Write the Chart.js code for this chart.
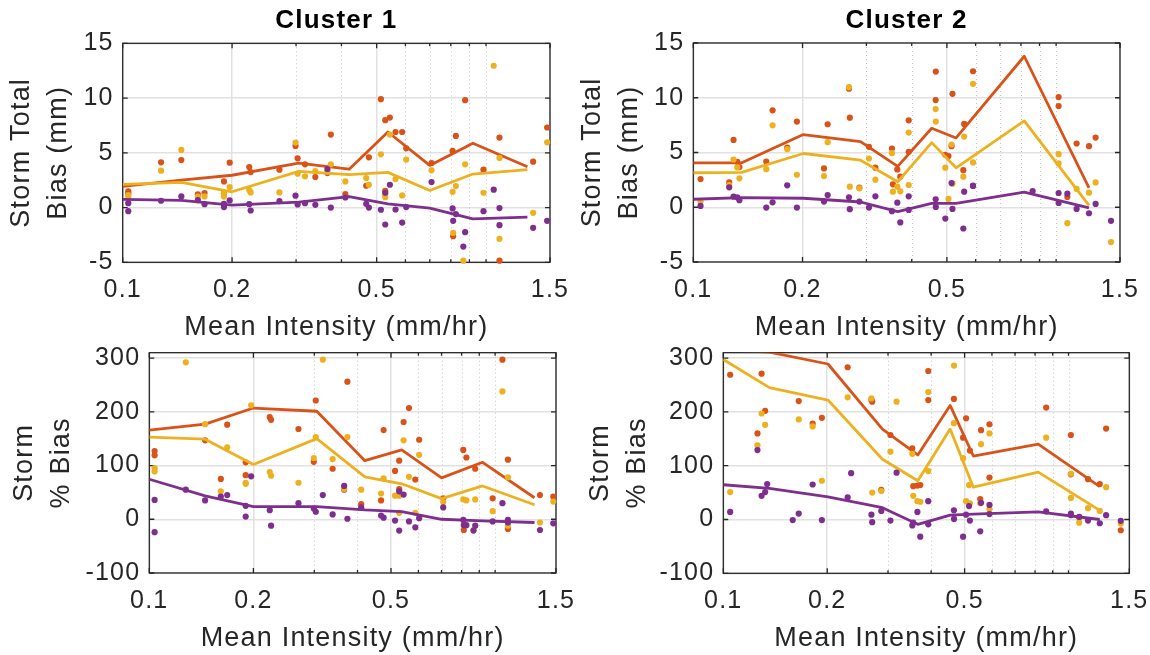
<!DOCTYPE html>
<html><head><meta charset="utf-8">
<script src="https://cdn.jsdelivr.net/npm/chart.js@4.4.1/dist/chart.umd.min.js"></script>
<style>
html,body{margin:0;padding:0;background:#fff;overflow:hidden;width:1150px;height:655px;}
canvas{position:absolute;}
</style></head><body>
<canvas id="tl"></canvas><canvas id="tr"></canvas><canvas id="bl"></canvas><canvas id="br"></canvas>
<script>
// ---------------- DATA ----------------
const seriesNames = ['Series A', 'Series B', 'Series C'];
const xTickValues = [0.1, 0.2, 0.5, 1.5];
const xTickLabels = ['0.1', '0.2', '0.5', '1.5'];
const xMinorTickValues = [0.3, 0.4, 0.6, 0.7, 0.8, 0.9, 1.0];
const yTicksTotal = [-5, 0, 5, 10, 15];
const yTicksPct = [-100, 0, 100, 200, 300];

// Cluster 1 storms
const c1Intensity = [0.1036,0.1036,0.1275,0.145,0.161,0.168,0.19,0.19,0.197,0.223,0.225,0.27,0.299,0.303,0.3175,0.339,0.366,0.374,0.41,0.468,0.476,0.5136,0.528,0.528,0.5437,0.5636,0.5878,0.6031,0.708,0.809,0.812,0.826,0.866,0.876,0.984,1.05,1.089,1.089,1.348,1.473];
const c1TotA = [1.47,1.3,4.13,4.34,1.2,1.32,2.39,1.3,4.1,3.7,3.24,3.46,5.63,4.5,3.95,2.79,3.15,6.66,1.23,1.99,4.59,9.9,7.98,1.53,8.22,6.9,6.9,5.41,4.07,5.17,-2.62,6.54,null,9.81,3.46,null,6.39,-4.85,4.19,7.31];
const c1TotB = [1.14,1.0,3.37,5.26,1.0,1.02,1.3,1.0,1.87,1.6,1.38,1.38,5.93,3.09,2.85,3.34,3.3,3.95,2.39,2.69,2.08,4.86,1.23,0.95,6.66,2.6,1.11,4.38,3.4,1.44,-2.31,1.96,-4.85,3.95,1.35,12.95,4.53,-2.86,-0.48,5.96];
const c1TotC = [0.4,-0.33,0.62,1.02,0.68,0.31,0.34,0.04,0.65,0.31,-0.27,0.59,1.08,0.28,0.4,0.25,3.52,0.0,0.92,0.34,0.0,-0.2,-1.55,1.35,2.08,-0.18,-1.37,0.04,2.33,-0.08,-1.21,-0.6,-3.56,-2.25,-0.33,1.63,-0.05,-1.61,-1.85,-1.21];
const c1PctA = [127,119,null,147,75,176,106,82,null,190,185,168,107,221,null,94,55,256,28,35,166,90,109,56,181,207,74,148,39,129,-20,115,null,94,39,297,111,-18,45,42];
const c1PctB = [95,89,292,177,52,134,66,68,212,88,81,68,114,153,297,112,57,153,55,48,76,44,12,44,147,79,12,120,32,37,-7.5,35,-20,37,15,238,78,-12,-6,33];
const c1PctC = [36,-24,55,35,42,45,25,5,80,17,-12,30,20,14,45,9,62,1,22,7,3,-2.5,-21,52,46,-4,-15,2,22,-1,-11,-11,-21,-12,-4,30,-1,-6,-20,-7.5];
// Cluster 1 binned-mean lines
const c1LineX = [0.1,0.145,0.2,0.305,0.42,0.537,0.70,0.92,1.30];
const c1LineTotA = [1.93,2.5,2.95,4.05,3.5,6.9,3.85,5.87,3.73];
const c1LineTotB = [2.11,2.3,1.44,3.3,3.0,3.21,1.56,3.06,3.46];
const c1LineTotC = [0.74,0.65,0.22,0.5,1.0,0.34,-0.05,-1.03,-0.88];
const c1LinePctA = [166,177,207,201,109,129,77,106,40];
const c1LinePctB = [153,149,102,150,79,66,38.5,62,27];
const c1LinePctC = [74.5,43.5,23.6,23.6,17.4,14.3,0,-3,-6];

// Cluster 2 storms
const c2Intensity = [0.1047,0.1256,0.1291,0.1322,0.134,0.1589,0.1654,0.1815,0.193,0.2292,0.2346,0.2686,0.27,0.2869,0.3049,0.3176,0.3528,0.355,0.365,0.372,0.3924,0.3924,0.4656,0.466,0.495,0.505,0.515,0.518,0.5549,0.558,0.5902,0.5902,0.8616,1.016,1.016,1.074,1.139,1.232,1.285,1.417];
const c2TotA = [2.58,2.27,6.15,4.15,3.67,4.18,8.85,5.45,7.82,3.55,7.58,10.82,8.18,1.79,5.52,3.61,5.36,2.09,3.45,2.79,7.94,5.06,9.79,12.39,4.79,4.67,5.58,10.36,3.39,7.61,12.42,null,null,10.06,9.24,0.94,5.82,5.58,6.36,null];
const c2TotB = [0.52,2.03,4.36,3.64,2.64,3.48,7.48,5.3,2.97,2.85,5.94,10.97,1.88,1.73,4.45,2.52,4.94,1.42,1.88,1.45,6.82,2.03,8.97,7.82,3.61,0.76,5.73,2.15,2.79,6.45,11.27,4.09,null,4.85,4.0,-1.45,1.67,1.33,2.27,-3.18];
const c2TotC = [0.12,1.82,0.97,0.91,0.64,-0.03,0.45,2.0,-0.03,0.52,1.12,0.91,-0.18,0.52,-0.03,1.0,-0.36,null,0.42,-1.39,1.0,-0.24,0.73,0.03,-1.03,null,2.21,-0.15,-1.94,1.42,1.94,1.97,1.48,1.3,0.39,1.24,-0.15,-0.55,0.3,-1.24];
const c2PctA = [269,160,271,202,null,null,220,178,189,283,null,222,219,55,157,null,132,62,63,64,276,222,224,null,152,188,null,128,38,166,177,78,208,157,84,4,75,66,169,-20];
const c2PctB = [51,138,197,176,null,null,186,173,72,227,null,225,50,53,126,219,122,44,34,33,237,90,179,286,114,34,64,30,30,140,160,19,152,85,40,-6,21,16,60,-7.5];
const c2PctC = [14,129,44,51,66,-1,11,65,-1,41,86,9,-5,16,-2,87,-11,-6,14,-32,34,-9,17,1,-32,9,25,-2,-22,31,27,10,15,11,8,5,-2,-7,8,-2.5];
// Cluster 2 binned-mean lines
const c2LineX = [0.1,0.136,0.201,0.289,0.366,0.454,0.53,0.817,1.232];
const c2LineTotA = [4.06,4.06,6.64,6.0,3.73,7.21,6.33,13.79,1.76];
const c2LineTotB = [3.15,3.18,4.91,4.3,2.33,5.9,3.6,7.88,0.18];
const c2LineTotC = [0.73,0.88,0.82,0.48,-0.39,0.36,0.36,1.39,-0.06];
const c2LinePctA = [315,311,289,168,120,212,118,140,61];
const c2LinePctB = [297.5,245,222,112,72,168,60,88,17];
const c2LinePctC = [64.6,58,42,22,-9,8,10,14,0];

// ---------------- STYLE ----------------
const FONT = "'Liberation Sans', Arial, Helvetica, sans-serif";
const COLORS = ['#D95319', '#EDB120', '#7E2F8E'];
const TICK_SIZE = 25, LABEL_SIZE = 27, TITLE_SIZE = 26;
const LETTER_SPACING = '1.2px';
const AXIS_COLOR = '#262626';
const DOT_RADIUS = 3.1, LINE_WIDTH = 2.8;

const spacingPlugin = {
  id: 'spacing',
  beforeUpdate(c) { c.ctx.letterSpacing = LETTER_SPACING; },
  beforeDraw(c) { c.ctx.letterSpacing = LETTER_SPACING; }
};

function makeAxesPlugin(yTicks) {
  return {
    id: 'matlabAxes',
    beforeDatasetsDraw(chart) {
      const {ctx, chartArea: a, scales: {x, y}} = chart;
      ctx.save();
      ctx.beginPath(); ctx.rect(a.left, a.top, a.right - a.left, a.bottom - a.top); ctx.clip();
      ctx.strokeStyle = '#c4c4c4'; ctx.lineWidth = 1; ctx.setLineDash([1, 3]);
      xMinorTickValues.forEach(v => {
        const px = Math.round(x.getPixelForValue(v)) + 0.5;
        ctx.beginPath(); ctx.moveTo(px, a.top); ctx.lineTo(px, a.bottom); ctx.stroke();
      });
      ctx.restore();
      ctx.save();
      ctx.strokeStyle = AXIS_COLOR; ctx.lineWidth = 1.3;
      ctx.strokeRect(a.left, a.top, a.right - a.left, a.bottom - a.top);
      ctx.beginPath();
      xTickValues.forEach(v => { const px = x.getPixelForValue(v);
        ctx.moveTo(px, a.bottom); ctx.lineTo(px, a.bottom - 5);
        ctx.moveTo(px, a.top); ctx.lineTo(px, a.top + 5); });
      xMinorTickValues.forEach(v => { const px = x.getPixelForValue(v);
        ctx.moveTo(px, a.bottom); ctx.lineTo(px, a.bottom - 3);
        ctx.moveTo(px, a.top); ctx.lineTo(px, a.top + 3); });
      yTicks.forEach(v => { const py = y.getPixelForValue(v);
        ctx.moveTo(a.left, py); ctx.lineTo(a.left + 5, py);
        ctx.moveTo(a.right, py); ctx.lineTo(a.right - 5, py); });
      ctx.stroke();
      ctx.restore();
    }
  };
}

function pts(xs, ys) {
  return xs.map((x, i) => ({x: x, y: ys[i]})).filter(p => p.y !== null && p.y !== undefined);
}
function dotsDS(name, xs, ys, color, order) {
  return {label: name, data: pts(xs, ys), showLine: false, backgroundColor: color, borderColor: color,
    pointRadius: DOT_RADIUS, pointBorderWidth: 0, pointHoverRadius: DOT_RADIUS, order: order, clip: false};
}
function lineDS(name, xs, ys, color, order) {
  return {label: name + ' mean', data: pts(xs, ys), showLine: true, borderColor: color, backgroundColor: color,
    borderWidth: LINE_WIDTH, pointRadius: 0, pointHoverRadius: 0, order: order, clip: 0, tension: 0,
    borderJoinStyle: 'round', borderCapStyle: 'butt'};
}

function makePanel(id, spec) {
  const cv = document.getElementById(id);
  cv.width = spec.canvas.w; cv.height = spec.canvas.h;
  cv.style.left = spec.canvas.left + 'px'; cv.style.top = spec.canvas.top + 'px';
  cv.style.width = spec.canvas.w + 'px'; cv.style.height = spec.canvas.h + 'px';
  const L = spec.area.l - spec.canvas.left, R = spec.area.r - spec.canvas.left;
  const T = spec.area.t - spec.canvas.top, B = spec.area.b - spec.canvas.top;
  const tickLH = TICK_SIZE * 1.2;
  const xTitleLH = LABEL_SIZE * 1.2;
  const xScaleBottom = (spec.xTitleMid - spec.canvas.top) + xTitleLH / 2;
  const xH = xScaleBottom - B;
  const padBottom = spec.canvas.h - xScaleBottom;
  const tickPad = (spec.tickMid - spec.canvas.top) - B - tickLH / 2;
  const yLabelLH = 37;
  const yTitlePadTop = (spec.yLine1 - spec.canvas.left) - yLabelLH / 2;
  let layoutTop = T;
  let titleOpts = {display: false};
  if (spec.title) {
    const tlh = TITLE_SIZE * 1.2;
    const mid = spec.titleMid - spec.canvas.top;
    titleOpts = {display: true, text: spec.title, fullSize: false, color: '#000000',
      font: {family: FONT, size: TITLE_SIZE, weight: 'bold', lineHeight: 1.2},
      padding: {top: mid - tlh / 2, bottom: T - mid - tlh / 2}};
    layoutTop = 0;
  }
  const d = spec.data;
  const datasets = [
    dotsDS(seriesNames[0], d.x, d.a, COLORS[0], 6),
    lineDS(seriesNames[0], d.lx, d.la, COLORS[0], 5),
    dotsDS(seriesNames[1], d.x, d.b, COLORS[1], 4),
    lineDS(seriesNames[1], d.lx, d.lb, COLORS[1], 3),
    dotsDS(seriesNames[2], d.x, d.c, COLORS[2], 2),
    lineDS(seriesNames[2], d.lx, d.lc, COLORS[2], 1)
  ];
  const yTicks = spec.yTicks;
  return new Chart(cv, {
    type: 'scatter',
    data: {datasets: datasets},
    options: {
      responsive: false, animation: false, devicePixelRatio: 1, events: [],
      layout: {padding: {left: 0, right: spec.canvas.w - R, top: layoutTop, bottom: padBottom}},
      plugins: {legend: {display: false}, tooltip: {enabled: false}, title: titleOpts},
      scales: {
        x: {
          type: 'logarithmic', position: 'bottom', min: 0.1, max: 1.5,
          afterBuildTicks: s => { s.ticks = xTickValues.map(v => ({value: v})); },
          afterFit: s => { s.height = xH; s.paddingLeft = 0; s.paddingRight = 0; },
          ticks: {autoSkip: false, maxRotation: 0, minRotation: 0, padding: tickPad, color: AXIS_COLOR,
            font: {family: FONT, size: TICK_SIZE, lineHeight: 1.2},
            callback: v => { const i = xTickValues.indexOf(v); return i >= 0 ? xTickLabels[i] : ''; }},
          grid: {color: '#e1e1e1', lineWidth: 1.5, drawTicks: false},
          border: {display: false},
          title: {display: true, text: 'Mean Intensity (mm/hr)', color: AXIS_COLOR,
            font: {family: FONT, size: LABEL_SIZE, lineHeight: 1.2}, padding: 0}
        },
        y: {
          type: 'linear', position: 'left', min: spec.yMin, max: spec.yMax,
          afterBuildTicks: s => { s.ticks = yTicks.map(v => ({value: v})); },
          afterFit: s => { s.width = L; s.paddingTop = 0; s.paddingBottom = 0; },
          ticks: {padding: 9, color: AXIS_COLOR, font: {family: FONT, size: TICK_SIZE, lineHeight: 1.2},
            callback: v => String(v)},
          grid: {color: '#e1e1e1', lineWidth: 1.5, drawTicks: false},
          border: {display: false},
          title: {display: true, text: spec.yTitle, color: AXIS_COLOR,
            font: {family: FONT, size: LABEL_SIZE, lineHeight: yLabelLH / LABEL_SIZE},
            padding: {top: yTitlePadTop, bottom: 0}}
        }
      }
    },
    plugins: [spacingPlugin, makeAxesPlugin(yTicks)]
  });
}

makePanel('tl', {
  canvas: {left: 0, top: 0, w: 590, h: 345},
  area: {l: 122.7, t: 43.3, r: 550, b: 262.3},
  title: 'Cluster 1', titleMid: 20.5, yLine1: 22, tickMid: 290, xTitleMid: 327.5,
  yMin: -5, yMax: 15, yTicks: yTicksTotal, yTitle: ['Storm Total', 'Bias (mm)'],
  data: {x: c1Intensity, a: c1TotA, b: c1TotB, c: c1TotC, lx: c1LineX, la: c1LineTotA, lb: c1LineTotB, lc: c1LineTotC}
});
makePanel('tr', {
  canvas: {left: 570, top: 0, w: 580, h: 345},
  area: {l: 693.3, t: 43, r: 1120, b: 262},
  title: 'Cluster 2', titleMid: 20.5, yLine1: 593, tickMid: 290, xTitleMid: 327.5,
  yMin: -5, yMax: 15, yTicks: yTicksTotal, yTitle: ['Storm Total', 'Bias (mm)'],
  data: {x: c2Intensity, a: c2TotA, b: c2TotB, c: c2TotC, lx: c2LineX, la: c2LineTotA, lb: c2LineTotB, lc: c2LineTotC}
});
makePanel('bl', {
  canvas: {left: 0, top: 320, w: 590, h: 335},
  area: {l: 149.3, t: 352.7, r: 556, b: 573},
  title: null, yLine1: 25, tickMid: 601.5, xTitleMid: 639,
  yMin: -100, yMax: 310, yTicks: yTicksPct, yTitle: ['Storm', '% Bias'],
  data: {x: c1Intensity, a: c1PctA, b: c1PctB, c: c1PctC, lx: c1LineX, la: c1LinePctA, lb: c1LinePctB, lc: c1LinePctC}
});
makePanel('br', {
  canvas: {left: 575, top: 320, w: 575, h: 335},
  area: {l: 723.3, t: 352.7, r: 1129.3, b: 573.3},
  title: null, yLine1: 601, tickMid: 601.5, xTitleMid: 639,
  yMin: -100, yMax: 310, yTicks: yTicksPct, yTitle: ['Storm', '% Bias'],
  data: {x: c2Intensity, a: c2PctA, b: c2PctB, c: c2PctC, lx: c2LineX, la: c2LinePctA, lb: c2LinePctB, lc: c2LinePctC}
});
</script>
</body></html>
